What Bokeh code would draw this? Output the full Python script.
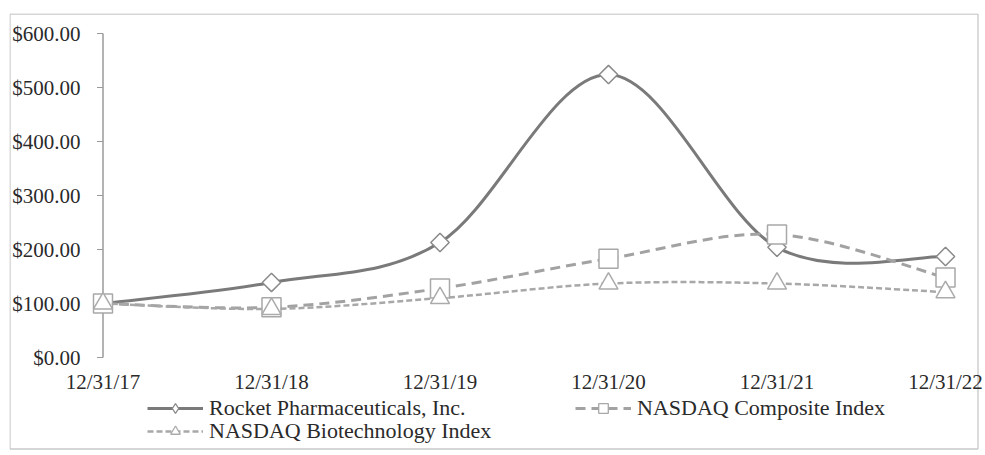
import numpy as np
from bokeh.plotting import figure
from bokeh.models import Range1d, Legend, LegendItem, ColumnDataSource
from bokeh.core.properties import value
from bokeh.embed import file_html
from bokeh.resources import INLINE

# ---- data ----
dates = ["12/31/17", "12/31/18", "12/31/19", "12/31/20", "12/31/21", "12/31/22"]
rocket = [100, 139, 213, 524, 204, 187]
composite = [100, 93, 128, 183, 228, 148]
biotech = [100, 90, 110, 137, 137, 121]
y_ticks = [0, 100, 200, 300, 400, 500, 600]
y_tick_labels = ["$0.00", "$100.00", "$200.00", "$300.00", "$400.00", "$500.00", "$600.00"]

FONT = "Liberation Serif"
TXT = "#2a2a2a"

xs = list(range(len(dates)))

# geometry in figure pixels (figure placed at page x=9, y=13)
W, H = 976, 440
x0_px, x5_px = 93.5, 936.0
y600_px, y0_px = 20.0, 344.0
ppx = (x5_px - x0_px) / (len(xs) - 1)
ppy = (y0_px - y600_px) / (y_ticks[-1] - y_ticks[0])


def px2x(px):
    return (px - x0_px) / ppx


def px2y(py):
    return (y0_px - py) / ppy


p = figure(width=W, height=H, output_backend="svg", toolbar_location=None,
           x_range=Range1d(px2x(0), px2x(W)), y_range=Range1d(px2y(H), px2y(0)),
           min_border=0)
p.margin = (13, 0, 0, 9)
p.outline_line_color = None
p.xgrid.visible = False
p.ygrid.visible = False
p.xaxis.visible = False
p.yaxis.visible = False
p.background_fill_color = "white"
p.border_fill_color = "white"

# chart border
BORDER = "#c8c8c8"
bx = [px2x(0.5), px2x(968.5)]
by = [px2y(0.5), px2y(435.5)]
p.segment(x0=[bx[0], bx[0], bx[1], bx[0]], y0=[by[0], by[0], by[0], by[1]],
          x1=[bx[1], bx[0], bx[1], bx[1]], y1=[by[0], by[1], by[1], by[1]],
          line_color=BORDER, line_width=1.3)

# y axis line and outward ticks at x=0
AX = "#9a9a9a"
tick_len = 6.0 / ppx
p.segment(x0=[xs[0]], y0=[y_ticks[0]], x1=[xs[0]], y1=[y_ticks[-1]], line_color=AX, line_width=1.5)
p.segment(x0=[xs[0] - tick_len] * len(y_ticks), y0=y_ticks,
          x1=[xs[0]] * len(y_ticks), y1=y_ticks, line_color=AX, line_width=1.2)

# y tick labels
p.text(x=[px2x(71)] * len(y_ticks), y=y_ticks, text=y_tick_labels, text_align="right",
       text_baseline="middle", text_font=value(FONT), text_font_size="21px", text_color=TXT)

# x category labels
p.text(x=xs, y=[px2y(368)] * len(xs), text=dates, text_align="center", text_baseline="middle",
       text_font=value(FONT), text_font_size="21px", text_color=TXT)


def bezier_source(xv, yv):
    n = len(xv)
    d = {k: [] for k in ["x0", "y0", "x1", "y1", "cx0", "cy0", "cx1", "cy1"]}
    for i in range(n - 1):
        i0 = max(i - 1, 0)
        i3 = min(i + 2, n - 1)
        d["x0"].append(xv[i]); d["y0"].append(yv[i])
        d["x1"].append(xv[i + 1]); d["y1"].append(yv[i + 1])
        d["cx0"].append(xv[i] + (xv[i + 1] - xv[i0]) / 6.0)
        d["cy0"].append(yv[i] + (yv[i + 1] - yv[i0]) / 6.0)
        d["cx1"].append(xv[i + 1] - (xv[i3] - xv[i]) / 6.0)
        d["cy1"].append(yv[i + 1] - (yv[i3] - yv[i]) / 6.0)
    return ColumnDataSource(d)


series = [
    dict(name="Rocket Pharmaceuticals, Inc.", y=rocket, color="#7a7a7a", width=3, dash="solid",
         marker="square", angle=np.pi / 4, size=13, mcolor="#8a8a8a", lmarker="diamond", lsize=14),
    dict(name="NASDAQ Composite Index", y=composite, color="#a2a2a2", width=3, dash="10 6",
         marker="square", angle=0, size=19, mcolor="#a8a8a8", lmarker="square", lsize=11),
    dict(name="NASDAQ Biotechnology Index", y=biotech, color="#a8a8a8", width=2.5, dash="6 3",
         marker="triangle", angle=0, size=19, mcolor="#ababab", lmarker="triangle", lsize=12),
]

items = []
for s in series:
    src = bezier_source(xs, s["y"])
    br = p.bezier(x0="x0", y0="y0", x1="x1", y1="y1", cx0="cx0", cy0="cy0", cx1="cx1", cy1="cy1",
                  source=src, line_color=s["color"], line_width=s["width"], line_dash=s["dash"])
    p.scatter(x=xs, y=s["y"], marker=s["marker"], angle=s["angle"], size=s["size"],
              fill_color="white", line_color=s["mcolor"], line_width=1.5)
    # legend-only marker (not drawn in the plot area)
    lm = p.scatter(x=[np.nan], y=[np.nan], marker=s["lmarker"], size=s["lsize"],
                   fill_color="white", line_color=s["mcolor"], line_width=1.3)
    items.append(LegendItem(label=s["name"], renderers=[br, lm]))

common = dict(orientation="horizontal", glyph_width=56, glyph_height=24, label_height=24,
              label_standoff=6, spacing=0, padding=0, margin=0,
              border_line_color=None, background_fill_alpha=0,
              label_text_font=FONT, label_text_font_size="22px", label_text_color=TXT)

leg_x = 138
leg1 = Legend(items=items[:2], location=(leg_x, H - 408), label_width=366, **common)
leg2 = Legend(items=items[2:], location=(leg_x, H - 431), **common)
p.add_layout(leg1, "center")
p.add_layout(leg2, "center")

open("out.html", "w").write(file_html(p, INLINE))
